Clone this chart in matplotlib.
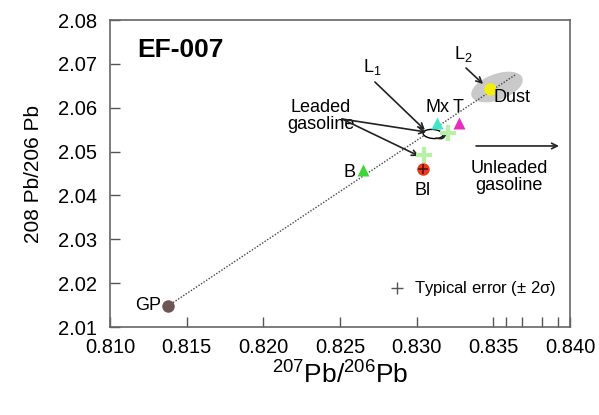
import matplotlib
matplotlib.use('Agg')
import matplotlib.pyplot as plt
import numpy as np

plt.rcParams['font.family'] = ['Liberation Sans', 'DejaVu Sans']
plt.rcParams['mathtext.fontset'] = 'custom'
plt.rcParams['mathtext.rm'] = 'Liberation Sans'
plt.rcParams['mathtext.it'] = 'Liberation Sans'

# ---- data (207Pb/206Pb, 208Pb/206Pb) ----
sample_names = ['GP', 'B', 'Bl', 'Mx', 'T', 'Dust']
sample_x = [0.81378, 0.82650, 0.83041, 0.83133, 0.83276, 0.83478]
sample_y = [2.01479, 2.04580, 2.04603, 2.05652, 2.05652, 2.06427]
sample_marker = ['o', '^', 'o', '^', '^', 'o']
sample_color = ['#6e5555', '#3ed63a', '#ec3a1e', '#3fe6c8', '#e62dbe', '#f4ee10']

# leaded gasoline points (pale crosses)
gas_x = [0.83048, 0.83204]
gas_y = [2.04922, 2.05424]

# mixing line GP -> dust end member
line_x = [0.81378, 0.83641]
line_y = [2.01479, 2.06746]

# dust field (grey) and L1 field (white), ellipse in pixel units
dust_field = dict(cx=0.83524, cy=2.06472, a=27, b=13, angle=20)
l1_field = dict(cx=0.83107, cy=2.05401, a=10, b=4.5, angle=-5)

err_x, err_y = 0.82870, 2.01889

x_ticks = [0.810, 0.815, 0.820, 0.825, 0.830, 0.835, 0.840]
y_ticks = [2.01, 2.02, 2.03, 2.04, 2.05, 2.06, 2.07, 2.08]
x_minor = [0.83583, 0.83687, 0.83817, 0.83922]

fig = plt.figure(figsize=(5.99, 4.15), dpi=100)
ax = fig.add_axes([0.1836, 0.2120, 0.7680, 0.7398])
ax.set_xlim(0.810, 0.840)
ax.set_ylim(2.01, 2.08)

# pixels per data unit, used to draw ellipses in screen proportions
px_x = 460 / 0.030
px_y = 307 / 0.070


def ellipse(f, **kw):
    t = np.linspace(0, 2 * np.pi, 100)
    th = np.radians(f['angle'])
    ex = f['a'] * np.cos(t)
    ey = f['b'] * np.sin(t)
    dx = ex * np.cos(th) - ey * np.sin(th)
    dy = ex * np.sin(th) + ey * np.cos(th)
    ax.fill(f['cx'] + dx / px_x, f['cy'] + dy / px_y, **kw)


ellipse(dust_field, facecolor='#c9c9c9', edgecolor='none', zorder=1)
ax.plot(line_x, line_y, ls=(0, (1, 1.2)), color='#444444', lw=1.0, zorder=2)
ellipse(l1_field, facecolor='white', edgecolor='black', lw=1.0, zorder=3)

ax.plot(gas_x, gas_y, '+', color='#b8f0a8', ms=11, mew=3, zorder=4)
for x, y, m, c in zip(sample_x, sample_y, sample_marker, sample_color):
    ax.plot(x, y, m, color=c, ms=9, mec='none', zorder=5)
# Bl has a dark cross inside
ax.plot(sample_x[2], sample_y[2], '+', color='#5a1010', ms=7, mew=1.2, zorder=6)

fs = 13
lab_pos = {'GP': (0.81248, 2.01502), 'B': (0.82559, 2.04534),
           'Bl': (0.83041, 2.04124), 'Mx': (0.83139, 2.05994),
           'T': (0.83270, 2.05994), 'Dust': (0.83622, 2.06222)}
for n in sample_names:
    ax.text(*lab_pos[n], n, fontsize=fs, ha='center', va='center', zorder=7)

ax.text(0.81176, 2.07316, 'EF-007', fontsize=19, fontweight='bold',
        ha='left', va='center')

arrow = dict(arrowstyle='->', color='#222222', lw=1.2, shrinkA=0, shrinkB=0)
ax.annotate('', xy=(0.83054, 2.05492), xytext=(0.82728, 2.06586), arrowprops=arrow)
ax.text(0.82709, 2.06700, 'L$_1$', fontsize=fs, ha='center', va='bottom')
ax.annotate('', xy=(0.83433, 2.06541), xytext=(0.83322, 2.06906), arrowprops=arrow)
ax.text(0.83302, 2.06990, 'L$_2$', fontsize=fs, ha='center', va='bottom')

ax.text(0.82376, 2.05800, 'Leaded\ngasoline', fontsize=fs, ha='center',
        va='center', linespacing=1.0)
ax.annotate('', xy=(0.83063, 2.05446), xytext=(0.82513, 2.05743), arrowprops=arrow)
ax.annotate('', xy=(0.83015, 2.04899), xytext=(0.82513, 2.05743), arrowprops=arrow)
ax.annotate('', xy=(0.83191, 2.05447), xytext=(0.83126, 2.05310),
            arrowprops=dict(arrowstyle='->', color='#222222', lw=1.0,
                            shrinkA=0, shrinkB=0,
                            connectionstyle='arc3,rad=0.6'))

ax.annotate('', xy=(0.83928, 2.05128), xytext=(0.83387, 2.05128), arrowprops=arrow)
ax.text(0.83602, 2.04430, 'Unleaded\ngasoline', fontsize=fs, ha='center',
        va='center', linespacing=1.0)

ax.plot(err_x, err_y, '+', color='#555555', ms=8, mew=1.0)
ax.text(0.82985, err_y, r'Typical error ($\pm$ 2$\sigma$)', fontsize=12,
        ha='left', va='center')

ax.set_xticks(x_ticks)
ax.set_xticklabels([f'{v:.3f}' for v in x_ticks])
ax.set_yticks(y_ticks)
ax.set_yticklabels([f'{v:.2f}' for v in y_ticks])
ax.set_xticks(x_minor, minor=True)
ax.tick_params(axis='both', which='both', direction='in', length=7,
               width=1.0, color='#555555', labelsize=14.5, top=False,
               right=False)
ax.tick_params(axis='x', pad=8)
ax.tick_params(axis='y', pad=9)
for s in ax.spines.values():
    s.set_color('#666666')
    s.set_linewidth(1.2)

ax.set_xlabel('$^{207}$Pb/$^{206}$Pb', fontsize=19, labelpad=3)
ax.set_ylabel('208 Pb/206 Pb', fontsize=15, labelpad=11)

fig.savefig('out.png', dpi=100)
